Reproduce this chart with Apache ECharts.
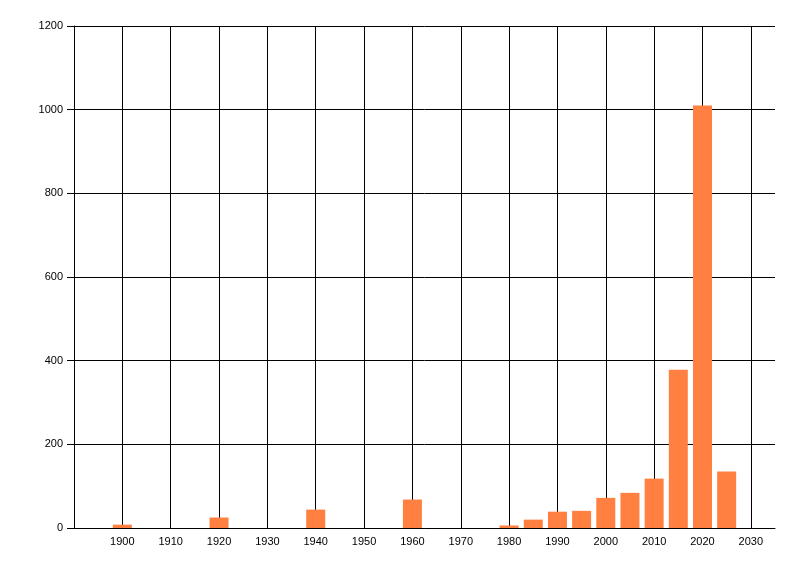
<!DOCTYPE html>
<html>
<head>
<meta charset="utf-8">
<script src="https://cdn.jsdelivr.net/npm/echarts@6/dist/echarts.min.js"></script>
<style>
  html, body { margin: 0; padding: 0; background: #fff; }
  #chart { width: 800px; height: 576px; }
</style>
</head>
<body>
<div id="chart"></div>
<script>
var years = [1900, 1920, 1940, 1960, 1980, 1985, 1990, 1995, 2000, 2005, 2010, 2015, 2020, 2025];
var counts = [8, 25, 44, 68, 6, 20, 39, 41, 72, 84, 118, 378, 1010, 135];

var chart = echarts.init(document.getElementById('chart'));
var points = years.map(function(y, i) {
  return [y, counts[i]];
});

chart.setOption({
  backgroundColor: '#fff',
  animation: false,
  grid: { left: 74, top: 26, right: 25, bottom: 48 },
  xAxis: {
    type: 'value',
    min: 1890,
    max: 2035,
    interval: 10,
    axisLine: { show: true, lineStyle: { color: '#000', width: 1 } },
    axisTick: { show: false },
    splitLine: { show: true, showMaxLine: false, lineStyle: { color: '#000', width: 1 } },
    axisLabel: {
      color: '#000',
      fontSize: 11,
      fontFamily: 'Liberation Sans, Arial, sans-serif',
      margin: 8,
      showMinLabel: false,
      formatter: function(v) {
        return v % 10 === 0 && v > 1890 ? String(v) : '';
      }
    }
  },
  yAxis: {
    type: 'value',
    min: 0,
    max: 1200,
    interval: 200,
    axisLine: { show: true, lineStyle: { color: '#000', width: 1 } },
    axisTick: { show: true, length: 7, lineStyle: { color: '#000' } },
    splitLine: { show: true, lineStyle: { color: '#000', width: 1 } },
    axisLabel: {
      color: '#000',
      fontSize: 11,
      fontFamily: 'Liberation Sans, Arial, sans-serif',
      margin: 11,
      formatter: function(v) { return String(v); }
    }
  },
  series: [{
    type: 'bar',
    data: points,
    barWidth: 19,
    itemStyle: { color: '#FF8040' }
  }]
});
</script>
</body>
</html>
